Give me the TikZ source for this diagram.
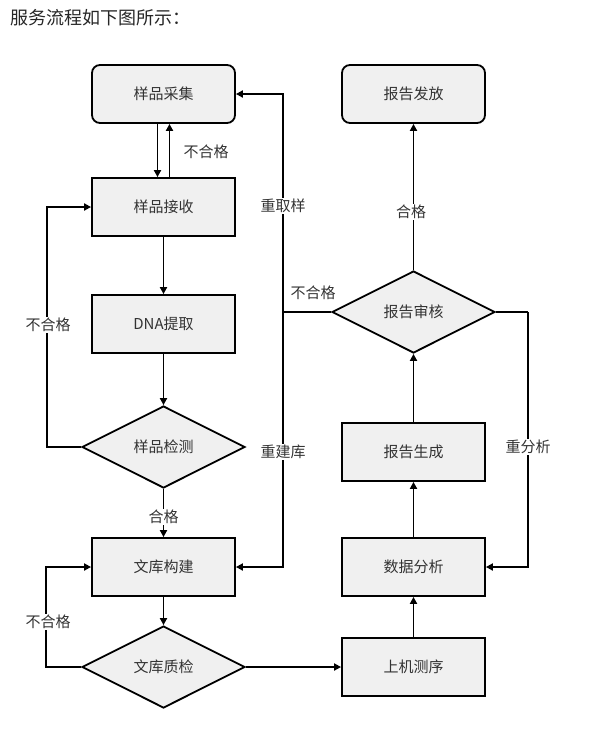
\documentclass[tikz,border=0pt]{standalone}
\usepackage{fontspec}
\setmainfont{Liberation Sans}
\newfontfamily\cjk{Noto Sans CJK SC}
\usetikzlibrary{shapes.geometric,arrows.meta}

\tikzset{
  txt/.style={font=\cjk\fontsize{15}{17}\selectfont, text=black!80},
  box/.style={txt, draw, fill=black!6, line width=1.8pt,
    minimum width=143pt, minimum height=58pt, inner sep=0pt},
  endbox/.style={box, rounded corners=8pt},
  check/.style={txt, draw, diamond, aspect=2, fill=black!6, line width=1.8pt,
    minimum width=163pt, minimum height=82pt, inner sep=0pt},
  link/.style={line width=1.8pt, -{Triangle[length=7pt,width=7pt]}},
  wire/.style={line width=1.8pt},
  tag/.style={txt, fill=white, inner sep=1.5pt}
}

\begin{document}
\begin{tikzpicture}[x=1pt,y=-1pt]
      \useasboundingbox (0,0) rectangle (604,755);
      \node (title) at (7,18) [anchor=west, font=\cjk\fontsize{18}{20}\selectfont, text=black!85] {服务流程如下图所示：};

      % left column
      \node (collect) at (163.5,94) [endbox] {样品采集};
      \node (receive) at (163.5,207) [box] {样品接收};
      \node (extract) at (163.5,324) [box] {DNA{\cjk 提取}};
      \node (test) at (163.5,447) [check] {样品检测};
      \node (build) at (163.5,567) [box] {文库构建};
      \node (libqc) at (163.5,667) [check] {文库质检};

      % right column
      \node (release) at (413.5,94) [endbox] {报告发放};
      \node (audit) at (413.5,312) [check] {报告审核};
      \node (report) at (413.5,452) [box] {报告生成};
      \node (analyse) at (413.5,567) [box] {数据分析};
      \node (seq) at (413.5,667) [box] {上机测序};

      \coordinate (split) at (283,312);
      \coordinate (back) at (528,312);

      \draw[link] ([xshift=-6pt]collect.south) -- ([xshift=-6pt]receive.north);
      \draw[link] ([xshift=6pt]receive.north) -- ([xshift=6pt]collect.south);
      \draw[link] (receive) -- (extract);
      \draw[link] (extract) -- (test);
      \draw[link] (test) -- (build);
      \draw[link] (build) -- (libqc);
      \draw[link] (test.west) -- ++(-34,0) |- (receive.west);
      \draw[link] (libqc.west) -- ++(-35,0) |- (build.west);
      \draw[link] (libqc) -- (seq);
      \draw[link] (seq) -- (analyse);
      \draw[link] (analyse) -- (report);
      \draw[link] (report) -- (audit);
      \draw[link] (audit) -- (release);
      \draw[wire] (audit.west) -- (split);
      \draw[link] (split) |- (collect.east);
      \draw[link] (split) |- (build.east);
      \draw[wire] (audit.east) -- (back);
      \draw[link] (back) |- (analyse.east);

      % labels
      \node (nopass1) at (206,152) [txt] {不合格};
      \node (nopass2) at (48,325) [tag] {不合格};
      \node (pass1) at (163.5,517) [tag] {合格};
      \node (nopass3) at (48,622) [tag] {不合格};
      \node (resample) at (283,206) [tag] {重取样};
      \node (rebuild) at (283,452) [tag] {重建库};
      \node (nopass4) at (313,293) [txt] {不合格};
      \node (pass2) at (411,212) [tag] {合格};
      \node (reanalyse) at (528,447) [tag] {重分析};
\end{tikzpicture}
\end{document}
